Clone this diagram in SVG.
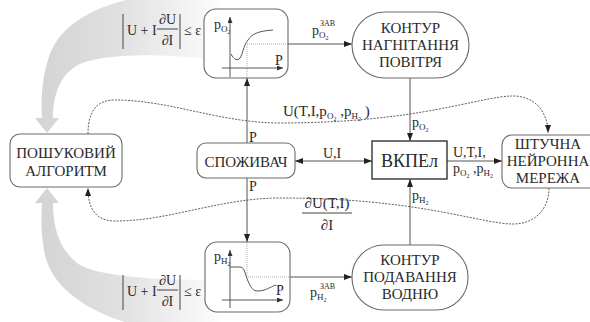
<svg xmlns="http://www.w3.org/2000/svg" width="590" height="322" viewBox="0 0 590 322">
<style>
.n{fill:#fff;stroke:#6a6a6a;stroke-width:1.1}
.t{font-family:"Liberation Serif","Times New Roman",serif;font-size:15px;fill:#2a2a2a;text-anchor:middle}
.l{font-family:"Liberation Serif","Times New Roman",serif;font-size:14px;fill:#2a2a2a}
.s1{font-size:9px}
.s2{font-size:6px}
.c{fill:none;stroke:#555;stroke-width:1}
.d{fill:none;stroke:#333;stroke-width:0.8;stroke-dasharray:2 1.3}
.dt{fill:none;stroke:#777;stroke-width:0.6;stroke-dasharray:1 1}
.ax{fill:none;stroke:#444;stroke-width:0.9}
.cv{fill:none;stroke:#555;stroke-width:1}
.bar{stroke:#444;stroke-width:1}
</style>
<defs>
<marker id="a" markerWidth="8" markerHeight="6" refX="8" refY="3" orient="auto-start-reverse" markerUnits="userSpaceOnUse"><path d="M0,0 L8,3 L0,6 Z" fill="#222"/></marker>
<marker id="as" markerWidth="6" markerHeight="5" refX="6" refY="2.5" orient="auto" markerUnits="userSpaceOnUse"><path d="M0,0 L6,2.5 L0,5 Z" fill="#333"/></marker>
<linearGradient id="gb" gradientUnits="userSpaceOnUse" x1="40" y1="0" x2="215" y2="0">
<stop offset="0" stop-color="#d4d4d4"/>
<stop offset="0.45" stop-color="#e0e0e0"/>
<stop offset="1" stop-color="#fbfbfb"/>
</linearGradient>
</defs>

<g id="bands">
<path d="M220,-10 C120,-10 60,15 48,60 C42,78 41,100 42,118 L35,118 L47,133 L59,118 L53,118 C53,95 60,75 78,65 C100,54 150,52 220,60 Z" fill="url(#gb)"/>
<path d="M220,335 C120,335 55,300 45,255 C41,235 41,220 42,203 L35,203 L47,188 L59,203 L53,203 C53,225 58,250 80,265 C100,276 150,280 220,280 Z" fill="url(#gb)"/>
</g>

<g id="formula-top" class="l">
<line class="bar" x1="123" y1="14" x2="123" y2="49"/>
<text x="127" y="35">U + I</text>
<text x="167.5" y="24" text-anchor="middle">∂U</text>
<line class="bar" x1="157" y1="29" x2="178" y2="29"/>
<text x="167.5" y="45" text-anchor="middle">∂I</text>
<line class="bar" x1="180" y1="14" x2="180" y2="49"/>
<text x="184" y="35">≤ ε</text>
</g>
<g id="formula-bottom" class="l">
<line class="bar" x1="123" y1="275" x2="123" y2="310"/>
<text x="127" y="296">U + I</text>
<text x="167.5" y="285" text-anchor="middle">∂U</text>
<line class="bar" x1="157" y1="290" x2="178" y2="290"/>
<text x="167.5" y="306" text-anchor="middle">∂I</text>
<line class="bar" x1="180" y1="275" x2="180" y2="310"/>
<text x="184" y="296">≤ ε</text>
</g>

<g id="connectors">
<line class="c" x1="247" y1="143" x2="247" y2="78" marker-end="url(#a)"/>
<line class="c" x1="247" y1="178" x2="247" y2="242" marker-end="url(#a)"/>
<line class="c" x1="288" y1="44" x2="352" y2="44" marker-end="url(#a)"/>
<line class="c" x1="290" y1="277" x2="352" y2="277" marker-end="url(#a)"/>
<line class="c" x1="410" y1="78" x2="410" y2="141" marker-end="url(#a)"/>
<line class="c" x1="410" y1="245" x2="410" y2="179" marker-end="url(#a)"/>
<line class="c" x1="295" y1="161" x2="372" y2="161" marker-start="url(#a)" marker-end="url(#a)"/>
<line class="c" x1="447" y1="161" x2="502" y2="161" marker-end="url(#a)"/>
<path class="d" d="M88,134 C88,112 96,100 115,100 C170,100 220,123 280,123 C420,123 480,96 513,96 C535,96 548,112 548,133" marker-end="url(#a)"/>
<path class="d" d="M549,188 C549,209 535,224 513,224 C480,224 420,198 280,198 C220,198 170,221 115,221 C96,221 88,209 88,188" marker-end="url(#a)"/>
</g>

<g id="graph-top">
<rect class="n" x="204" y="9" width="84" height="69" rx="12"/>
<line class="ax" x1="230" y1="77" x2="230" y2="17" marker-end="url(#as)"/>
<line class="ax" x1="222" y1="68" x2="283" y2="68" marker-end="url(#as)"/>
<path class="cv" d="M231,54 C234,60 238,61 240,58 C243,54 243,46 248,40 C252,34 258,31 273,30"/>
<path class="dt" d="M247,78 L247,44 L288,44"/>
<text class="l" x="214" y="29">p<tspan class="s1" dy="3">O</tspan><tspan class="s2" dy="2">2</tspan></text>
<text class="l" x="275" y="65">P</text>
</g>

<g id="graph-bottom">
<rect class="n" x="205" y="242" width="85" height="70" rx="12"/>
<line class="ax" x1="230" y1="308" x2="230" y2="250" marker-end="url(#as)"/>
<line class="ax" x1="222" y1="300" x2="283" y2="300" marker-end="url(#as)"/>
<path class="cv" d="M230,267 L240,267 C245,267 245,275 248,281 C251,288 253,291 258,291 C265,291 270,287 276,285"/>
<path class="dt" d="M247,242 L247,277 L290,277"/>
<text class="l" x="214" y="261">p<tspan class="s1" dy="3">H</tspan><tspan class="s2" dy="2">2</tspan></text>
<text class="l" x="276" y="295">P</text>
</g>

<g id="kontur-top">
<rect class="n" x="352" y="12" width="117" height="66" rx="33"/>
<text class="t" x="410.5" y="33">КОНТУР</text>
<text class="t" x="410.5" y="50">НАГНІТАННЯ</text>
<text class="t" x="410.5" y="67">ПОВІТРЯ</text>
</g>
<g id="kontur-bottom">
<rect class="n" x="352" y="245" width="116" height="65" rx="32"/>
<text class="t" x="410" y="265">КОНТУР</text>
<text class="t" x="410" y="282">ПОДАВАННЯ</text>
<text class="t" x="410" y="299">ВОДНЮ</text>
</g>
<g id="poshuk">
<rect class="n" x="10" y="134" width="112" height="53" rx="10"/>
<text class="t" x="66" y="158">ПОШУКОВИЙ</text>
<text class="t" x="66" y="176">АЛГОРИТМ</text>
</g>
<g id="spozhyvach">
<rect class="n" x="197" y="143" width="98" height="35" rx="9"/>
<text class="t" x="246" y="167">СПОЖИВАЧ</text>
</g>
<g id="vkpe">
<rect x="372" y="141" width="75" height="38" fill="#fff" stroke="#333" stroke-width="1.4"/>
<text class="t" x="409.5" y="167" style="font-size:18px">ВКПЕл</text>
</g>
<g id="neuro">
<rect class="n" x="502" y="135" width="100" height="53" rx="10"/>
<text class="t" x="548" y="149">ШТУЧНА</text>
<text class="t" x="548" y="166">НЕЙРОННА</text>
<text class="t" x="548" y="183">МЕРЕЖА</text>
</g>

<g id="labels" class="l">
<text x="249" y="142">P</text>
<text x="249" y="191">P</text>
<text x="323" y="158">U,I</text>
<text x="453" y="157">U,T,I,</text>
<text x="453" y="173">p<tspan class="s1" dy="3">O</tspan><tspan class="s2" dy="2">2</tspan><tspan dy="-5"> ,p</tspan><tspan class="s1" dy="3">H</tspan><tspan class="s2" dy="2">2</tspan></text>
<text x="412" y="127">p<tspan class="s1" dy="3">O</tspan><tspan class="s2" dy="2">2</tspan></text>
<text x="412" y="200">p<tspan class="s1" dy="3">H</tspan><tspan class="s2" dy="2">2</tspan></text>
<text x="312" y="35">p<tspan class="s1" dy="3">O</tspan><tspan class="s2" dy="2">2</tspan></text>
<text x="320" y="26" style="font-size:8px">ЗАВ</text>
<text x="310" y="297">p<tspan class="s1" dy="3">H</tspan><tspan class="s2" dy="2">2</tspan></text>
<text x="320" y="289" style="font-size:8px">ЗАВ</text>
<text x="283" y="116" style="font-size:15px">U(T,I,p<tspan class="s1" dy="3">O</tspan><tspan class="s2" dy="2">2</tspan><tspan dy="-5"> ,p</tspan><tspan class="s1" dy="3">H</tspan><tspan class="s2" dy="2">2</tspan><tspan dy="-5"> )</tspan></text>
<text x="327" y="208" text-anchor="middle" style="font-size:15px">∂U(T,I)</text>
<line class="bar" x1="302" y1="213" x2="352" y2="213"/>
<text x="327" y="230" text-anchor="middle" style="font-size:15px">∂I</text>
</g>
</svg>
